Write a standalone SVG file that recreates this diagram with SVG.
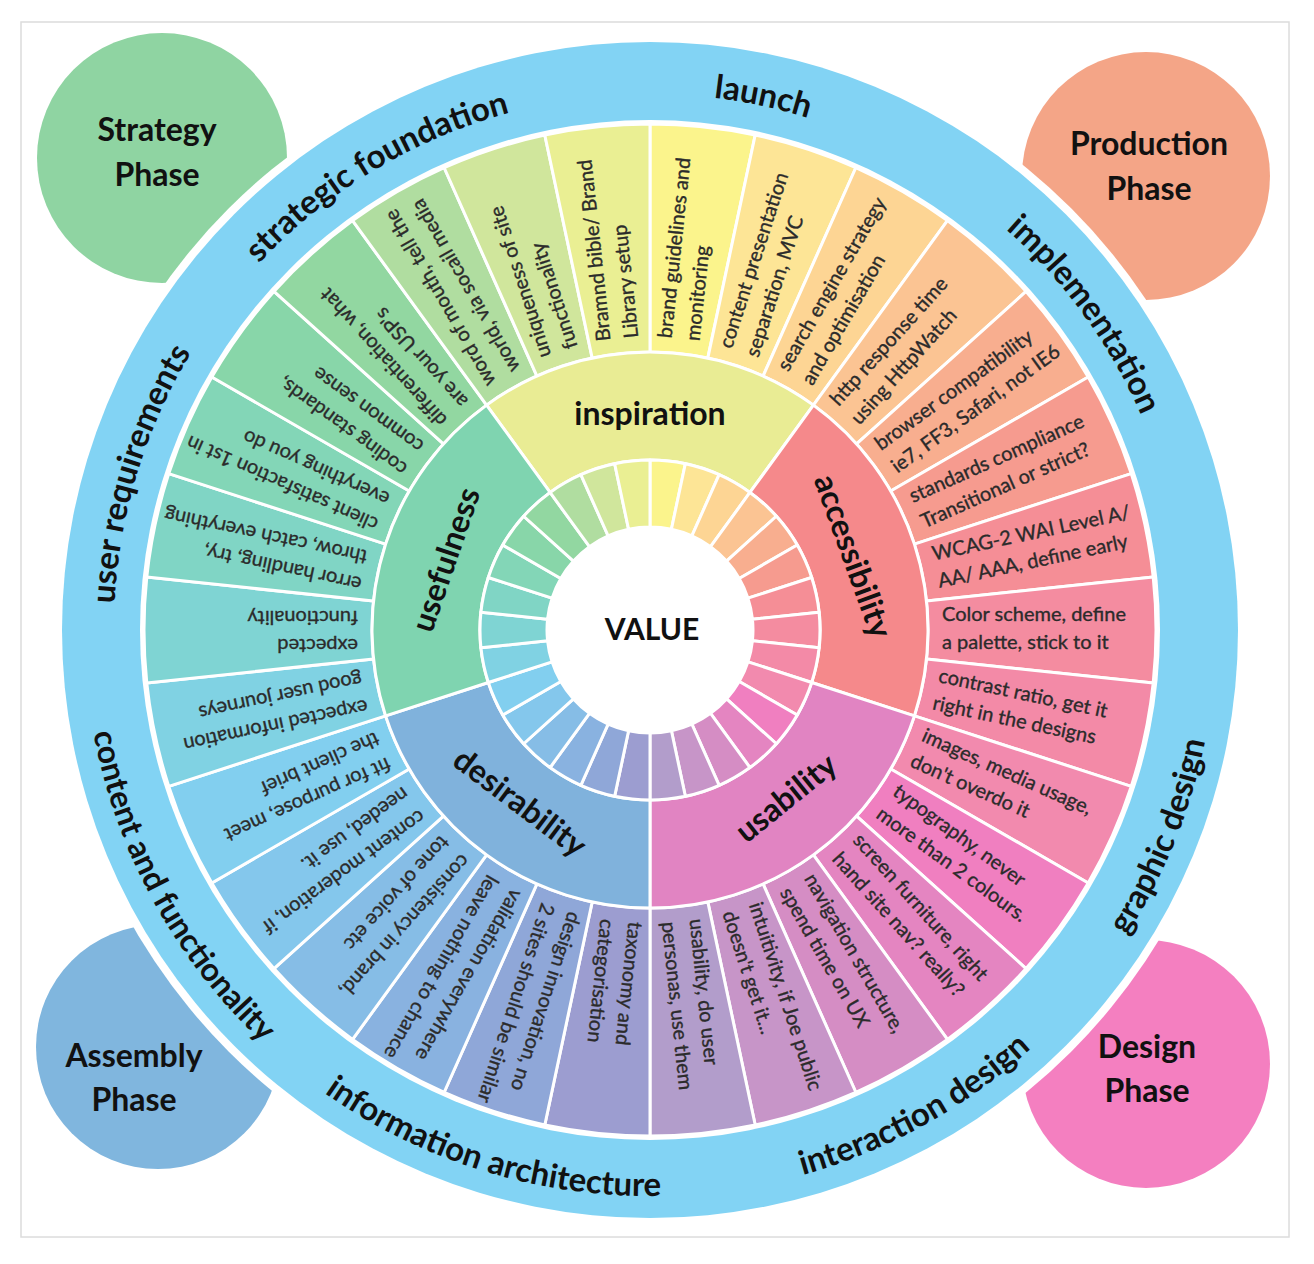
<svg xmlns="http://www.w3.org/2000/svg" xmlns:xlink="http://www.w3.org/1999/xlink" width="1314" height="1264" viewBox="0 0 1314 1264">
<style>
.seg{stroke:#fff;stroke-width:3;stroke-linejoin:round}
.st{font-family:Lato,"Liberation Sans",sans-serif;font-size:20px;fill:#2b2b2b;stroke:#2b2b2b;stroke-width:0.35}
.cat{font-family:Lato,"Liberation Sans",sans-serif;font-weight:bold;font-size:32px;fill:#111;text-anchor:middle}
.rl{font-family:Lato,"Liberation Sans",sans-serif;font-weight:bold;font-size:33px;fill:#111}
.ph{font-family:Lato,"Liberation Sans",sans-serif;font-weight:bold;font-size:32px;fill:#111;text-anchor:middle}
</style>
<defs>
<path id="wOut" d="M -29.06 -276.48 L -52.89 -503.23 A 506 506 0 0 1 52.89 -503.23 L 29.06 -276.48 A 278 278 0 0 0 -29.06 -276.48 Z"/>
<path id="wIn" d="M -10.77 -102.44 L -17.77 -169.07 A 170 170 0 0 1 17.77 -169.07 L 10.77 -102.44 A 103 103 0 0 0 -10.77 -102.44 Z"/>
<path id="wCat" d="M -99.92 -137.53 L -163.40 -224.91 A 278 278 0 0 1 163.40 -224.91 L 99.92 -137.53 A 170 170 0 0 0 -99.92 -137.53 Z"/>
<path id="pLaunch" d="M -398.3 -358.6 A 536 536 0 0 1 509.8 -165.6"/>
<path id="pStrat" d="M -535.9 9.4 A 536 536 0 0 1 259.9 -468.8"/>
<path id="pImpl" d="M -56.0 -533.1 A 536 536 0 0 1 489.6 218.0"/>
<path id="pUser" d="M -392.0 365.6 A 536 536 0 0 1 -120.6 -522.3"/>
<path id="pGraph" d="M 78.8 560.5 A 566 566 0 0 0 446.0 -348.5"/>
<path id="pInter" d="M -291.5 485.2 A 566 566 0 0 0 565.9 9.9"/>
<path id="pInfo" d="M -551.5 127.4 A 566 566 0 0 0 386.0 414.0"/>
<path id="pCont" d="M -481.6 -297.4 A 566 566 0 0 0 -9.9 565.9"/>
</defs>
<rect x="0" y="0" width="1314" height="1264" fill="#fff"/>
<rect x="21" y="22" width="1268" height="1215" fill="#fff" stroke="#dcdcdc" stroke-width="1.5"/>

<g id="phase-strategy"><circle cx="162" cy="158" r="125" fill="#8fd4a2"/><text class="ph" x="157" y="141">Strategy</text><text class="ph" x="157" y="186">Phase</text></g>
<g id="phase-production"><circle cx="1146" cy="176" r="124" fill="#f4a587"/><text class="ph" x="1149" y="155">Production</text><text class="ph" x="1149" y="200">Phase</text></g>
<g id="phase-assembly"><circle cx="158" cy="1047" r="122" fill="#80b6de"/><text class="ph" x="134" y="1067">Assembly</text><text class="ph" x="134" y="1111">Phase</text></g>
<g id="phase-design"><circle cx="1146" cy="1064" r="124" fill="#f47fc0"/><text class="ph" x="1147" y="1058">Design</text><text class="ph" x="1147" y="1102">Phase</text></g>

<g id="wheel" transform="translate(650,630)">
<g id="ring">
<circle r="596" fill="#fff"/>
<circle r="588" fill="#82d3f4"/>
<circle r="510" fill="#fff"/>
</g>
<g id="segments">
<g id="s6"><use href="#wOut" class="seg" fill="#fbf48c" transform="rotate(6)"/><text class="st" transform="rotate(-84)"><tspan x="292" y="-9">brand  guidelines and</tspan><tspan x="292" y="19">monitoring</tspan></text></g>
<g id="s18"><use href="#wOut" class="seg" fill="#fde596" transform="rotate(18)"/><text class="st" transform="rotate(-72)"><tspan x="292" y="-9">content presentation</tspan><tspan x="292" y="19">separation, MVC</tspan></text></g>
<g id="s30"><use href="#wOut" class="seg" fill="#fdd594" transform="rotate(30)"/><text class="st" transform="rotate(-60)"><tspan x="292" y="-9">search engine strategy</tspan><tspan x="292" y="19">and optimisation</tspan></text></g>
<g id="s42"><use href="#wOut" class="seg" fill="#fbc493" transform="rotate(42)"/><text class="st" transform="rotate(-48)"><tspan x="292" y="-9">http response time</tspan><tspan x="292" y="19">using HttpWatch</tspan></text></g>
<g id="s54"><use href="#wOut" class="seg" fill="#f8ae8f" transform="rotate(54)"/><text class="st" transform="rotate(-36)"><tspan x="292" y="-9">browser compatibility</tspan><tspan x="292" y="19">ie7, FF3, Safari, not IE6</tspan></text></g>
<g id="s66"><use href="#wOut" class="seg" fill="#f69b8f" transform="rotate(66)"/><text class="st" transform="rotate(-24)"><tspan x="292" y="-9">standards compliance</tspan><tspan x="292" y="19">Transitional or strict?</tspan></text></g>
<g id="s78"><use href="#wOut" class="seg" fill="#f58e96" transform="rotate(78)"/><text class="st" transform="rotate(-12)"><tspan x="292" y="-9">WCAG-2 WAI Level A/</tspan><tspan x="292" y="19">AA/ AAA, define early</tspan></text></g>
<g id="s90"><use href="#wOut" class="seg" fill="#f48ca0" transform="rotate(90)"/><text class="st" transform="rotate(0)"><tspan x="292" y="-9">Color scheme, define</tspan><tspan x="292" y="19">a palette, stick to it</tspan></text></g>
<g id="s102"><use href="#wOut" class="seg" fill="#f38aa7" transform="rotate(102)"/><text class="st" transform="rotate(12)"><tspan x="292" y="-9">contrast ratio, get it</tspan><tspan x="292" y="19">right in the designs</tspan></text></g>
<g id="s114"><use href="#wOut" class="seg" fill="#f28aae" transform="rotate(114)"/><text class="st" transform="rotate(24)"><tspan x="292" y="-9">images, media usage,</tspan><tspan x="292" y="19">don't overdo it</tspan></text></g>
<g id="s126"><use href="#wOut" class="seg" fill="#f07fc0" transform="rotate(126)"/><text class="st" transform="rotate(36)"><tspan x="292" y="-9">typography, never</tspan><tspan x="292" y="19">more than 2 colours.</tspan></text></g>
<g id="s138"><use href="#wOut" class="seg" fill="#e485c1" transform="rotate(138)"/><text class="st" transform="rotate(48)"><tspan x="292" y="-9">screen furniture, right</tspan><tspan x="292" y="19">hand site nav? really?</tspan></text></g>
<g id="s150"><use href="#wOut" class="seg" fill="#d58dc4" transform="rotate(150)"/><text class="st" transform="rotate(60)"><tspan x="292" y="-9">navigation structure,</tspan><tspan x="292" y="19">spend time on UX</tspan></text></g>
<g id="s162"><use href="#wOut" class="seg" fill="#c795c8" transform="rotate(162)"/><text class="st" transform="rotate(72)"><tspan x="292" y="-9">intuitivity, if Joe public</tspan><tspan x="292" y="19">doesn't get it...</tspan></text></g>
<g id="s174"><use href="#wOut" class="seg" fill="#b29dcb" transform="rotate(174)"/><text class="st" transform="rotate(84)"><tspan x="292" y="-9">usability, do user</tspan><tspan x="292" y="19">personas, use them</tspan></text></g>
<g id="s186"><use href="#wOut" class="seg" fill="#9c9dd0" transform="rotate(186)"/><text class="st" transform="rotate(96)"><tspan x="292" y="-9">taxonomy and</tspan><tspan x="292" y="19">categorisation</tspan></text></g>
<g id="s198"><use href="#wOut" class="seg" fill="#8fa7d8" transform="rotate(198)"/><text class="st" transform="rotate(108)"><tspan x="292" y="-9">design innovation, no</tspan><tspan x="292" y="19">2 sites should be similar</tspan></text></g>
<g id="s210"><use href="#wOut" class="seg" fill="#89b2e0" transform="rotate(210)"/><text class="st" transform="rotate(120)"><tspan x="292" y="-9">validation everywhere</tspan><tspan x="292" y="19">leave nothing to chance</tspan></text></g>
<g id="s222"><use href="#wOut" class="seg" fill="#86bde6" transform="rotate(222)"/><text class="st" transform="rotate(132)"><tspan x="292" y="-9">consistency in brand,</tspan><tspan x="292" y="19">tone of voice etc</tspan></text></g>
<g id="s234"><use href="#wOut" class="seg" fill="#84c7ec" transform="rotate(234)"/><text class="st" transform="rotate(144)"><tspan x="292" y="-9">content moderation, if</tspan><tspan x="292" y="19">needed, use it.</tspan></text></g>
<g id="s246"><use href="#wOut" class="seg" fill="#82cfef" transform="rotate(246)"/><text class="st" transform="rotate(156)"><tspan x="292" y="-9">fit for purpose, meet</tspan><tspan x="292" y="19">the client brief</tspan></text></g>
<g id="s258"><use href="#wOut" class="seg" fill="#80d2e3" transform="rotate(258)"/><text class="st" transform="rotate(168)"><tspan x="292" y="-9">expected information</tspan><tspan x="292" y="19">good user journeys</tspan></text></g>
<g id="s270"><use href="#wOut" class="seg" fill="#7fd4d3" transform="rotate(270)"/><text class="st" transform="rotate(180)"><tspan x="292" y="-9">expected</tspan><tspan x="292" y="19">functionality</tspan></text></g>
<g id="s282"><use href="#wOut" class="seg" fill="#80d5c5" transform="rotate(282)"/><text class="st" transform="rotate(192)"><tspan x="292" y="-9">error handling, try,</tspan><tspan x="292" y="19">throw, catch everything</tspan></text></g>
<g id="s294"><use href="#wOut" class="seg" fill="#83d6b7" transform="rotate(294)"/><text class="st" transform="rotate(204)"><tspan x="292" y="-9">client satisfaction 1st in</tspan><tspan x="292" y="19">everything you do</tspan></text></g>
<g id="s306"><use href="#wOut" class="seg" fill="#88d6a9" transform="rotate(306)"/><text class="st" transform="rotate(216)"><tspan x="292" y="-9">coding standards,</tspan><tspan x="292" y="19">common sense</tspan></text></g>
<g id="s318"><use href="#wOut" class="seg" fill="#92d7a1" transform="rotate(318)"/><text class="st" transform="rotate(228)"><tspan x="292" y="-9">differentiation, what</tspan><tspan x="292" y="19">are your USP's</tspan></text></g>
<g id="s330"><use href="#wOut" class="seg" fill="#b0dda0" transform="rotate(330)"/><text class="st" transform="rotate(240)"><tspan x="292" y="-9">word of mouth, tell the</tspan><tspan x="292" y="19">world, via socail media</tspan></text></g>
<g id="s342"><use href="#wOut" class="seg" fill="#d0e69c" transform="rotate(342)"/><text class="st" transform="rotate(252)"><tspan x="292" y="-9">uniqueness of site</tspan><tspan x="292" y="19">functionality</tspan></text></g>
<g id="s354"><use href="#wOut" class="seg" fill="#eaef93" transform="rotate(354)"/><text class="st" transform="rotate(264)"><tspan x="292" y="-9">Bramnd bible/ Brand</tspan><tspan x="292" y="19">Library setup</tspan></text></g>
</g>
<g id="categories">
<g id="cat-inspiration"><use href="#wCat" class="seg" fill="#e9ec94" transform="rotate(0)"/><text class="cat" x="0" y="-205">inspiration</text></g>
<g id="cat-accessibility"><use href="#wCat" class="seg" fill="#f5898b" transform="rotate(72)"/><text class="cat" transform="rotate(70)" x="0" y="-205">accessibility</text></g>
<g id="cat-usability"><use href="#wCat" class="seg" fill="#e184c2" transform="rotate(144)"/><text class="cat" transform="rotate(-39)" x="0" y="227">usability</text></g>
<g id="cat-desirability"><use href="#wCat" class="seg" fill="#80b2dc" transform="rotate(216)"/><text class="cat" transform="rotate(37)" x="0" y="227">desirability</text></g>
<g id="cat-usefulness"><use href="#wCat" class="seg" fill="#7fd4b0" transform="rotate(288)"/><text class="cat" transform="rotate(-71)" x="0" y="-205">usefulness</text></g>
</g>
<g id="inner-ring">
<use href="#wIn" class="seg" fill="#fbf48c" transform="rotate(6)"/>
<use href="#wIn" class="seg" fill="#fde596" transform="rotate(18)"/>
<use href="#wIn" class="seg" fill="#fdd594" transform="rotate(30)"/>
<use href="#wIn" class="seg" fill="#fbc493" transform="rotate(42)"/>
<use href="#wIn" class="seg" fill="#f8ae8f" transform="rotate(54)"/>
<use href="#wIn" class="seg" fill="#f69b8f" transform="rotate(66)"/>
<use href="#wIn" class="seg" fill="#f58e96" transform="rotate(78)"/>
<use href="#wIn" class="seg" fill="#f48ca0" transform="rotate(90)"/>
<use href="#wIn" class="seg" fill="#f38aa7" transform="rotate(102)"/>
<use href="#wIn" class="seg" fill="#f28aae" transform="rotate(114)"/>
<use href="#wIn" class="seg" fill="#f07fc0" transform="rotate(126)"/>
<use href="#wIn" class="seg" fill="#e485c1" transform="rotate(138)"/>
<use href="#wIn" class="seg" fill="#d58dc4" transform="rotate(150)"/>
<use href="#wIn" class="seg" fill="#c795c8" transform="rotate(162)"/>
<use href="#wIn" class="seg" fill="#b29dcb" transform="rotate(174)"/>
<use href="#wIn" class="seg" fill="#9c9dd0" transform="rotate(186)"/>
<use href="#wIn" class="seg" fill="#8fa7d8" transform="rotate(198)"/>
<use href="#wIn" class="seg" fill="#89b2e0" transform="rotate(210)"/>
<use href="#wIn" class="seg" fill="#86bde6" transform="rotate(222)"/>
<use href="#wIn" class="seg" fill="#84c7ec" transform="rotate(234)"/>
<use href="#wIn" class="seg" fill="#82cfef" transform="rotate(246)"/>
<use href="#wIn" class="seg" fill="#80d2e3" transform="rotate(258)"/>
<use href="#wIn" class="seg" fill="#7fd4d3" transform="rotate(270)"/>
<use href="#wIn" class="seg" fill="#80d5c5" transform="rotate(282)"/>
<use href="#wIn" class="seg" fill="#83d6b7" transform="rotate(294)"/>
<use href="#wIn" class="seg" fill="#88d6a9" transform="rotate(306)"/>
<use href="#wIn" class="seg" fill="#92d7a1" transform="rotate(318)"/>
<use href="#wIn" class="seg" fill="#b0dda0" transform="rotate(330)"/>
<use href="#wIn" class="seg" fill="#d0e69c" transform="rotate(342)"/>
<use href="#wIn" class="seg" fill="#eaef93" transform="rotate(354)"/>
</g>
<g id="value"><circle r="103" fill="#fff"/><text class="cat" x="2" y="10" style="font-size:30px">VALUE</text></g>
<g id="ring-labels">
<text class="rl"><textPath href="#pLaunch" startOffset="50%" text-anchor="middle">launch</textPath></text>
<text class="rl"><textPath href="#pStrat" startOffset="50%" text-anchor="middle">strategic foundation</textPath></text>
<text class="rl"><textPath href="#pImpl" startOffset="50%" text-anchor="middle">implementation</textPath></text>
<text class="rl"><textPath href="#pUser" startOffset="50%" text-anchor="middle">user requirements</textPath></text>
<text class="rl"><textPath href="#pGraph" startOffset="50%" text-anchor="middle">graphic design</textPath></text>
<text class="rl"><textPath href="#pInter" startOffset="50%" text-anchor="middle">interaction design</textPath></text>
<text class="rl"><textPath href="#pInfo" startOffset="50%" text-anchor="middle">information architecture</textPath></text>
<text class="rl" style="font-size:32px"><textPath href="#pCont" startOffset="50%" text-anchor="middle">content and functionality</textPath></text>
</g>
</g>
</svg>
